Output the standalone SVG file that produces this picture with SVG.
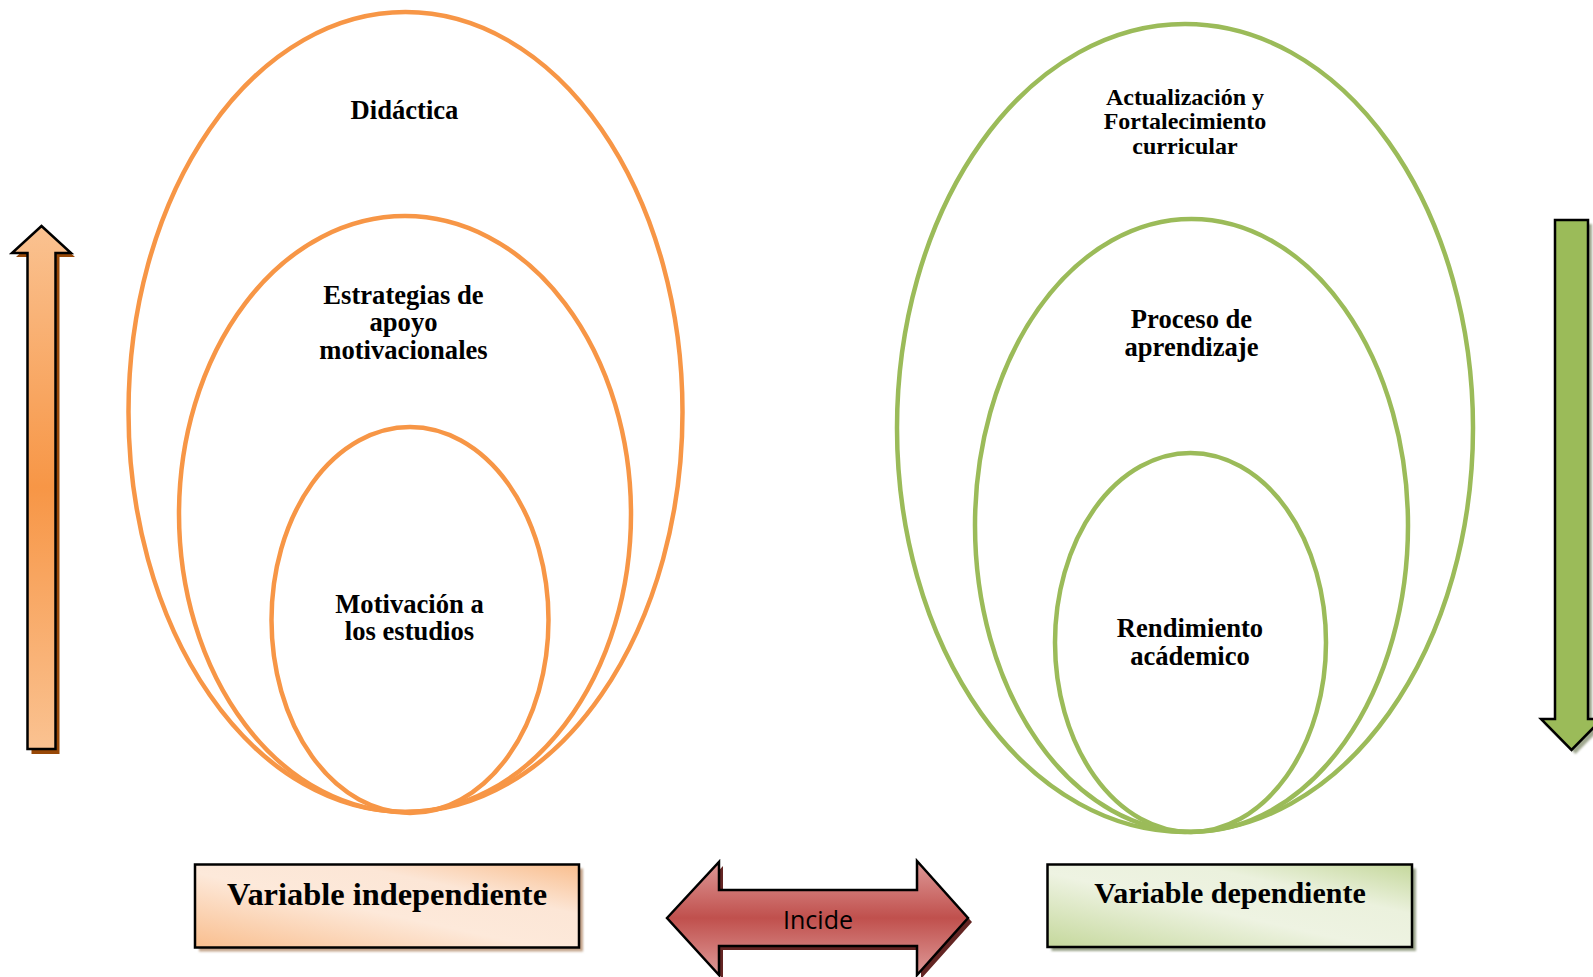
<svg xmlns="http://www.w3.org/2000/svg" width="1593" height="977" viewBox="0 0 1593 977">
  <defs>
    <linearGradient id="gUp" x1="0" y1="0" x2="0" y2="1">
      <stop offset="0" stop-color="#fac291"/>
      <stop offset="0.5" stop-color="#f79646"/>
      <stop offset="1" stop-color="#fac291"/>
    </linearGradient>
    <linearGradient id="gRed" x1="0" y1="0" x2="0" y2="1">
      <stop offset="0" stop-color="#de9a98"/>
      <stop offset="0.5" stop-color="#c0504d"/>
      <stop offset="1" stop-color="#de9a98"/>
    </linearGradient>
    <linearGradient id="gOrangeBox" x1="0" y1="1" x2="1" y2="0">
      <stop offset="0" stop-color="#f9be8e"/>
      <stop offset="0.45" stop-color="#fde9da"/>
      <stop offset="0.7" stop-color="#fce6d6"/>
      <stop offset="1" stop-color="#f9be8e"/>
    </linearGradient>
    <linearGradient id="gGreenBox" x1="0" y1="1" x2="1" y2="0">
      <stop offset="0" stop-color="#c5d89c"/>
      <stop offset="0.45" stop-color="#eef3e2"/>
      <stop offset="0.7" stop-color="#ebf1dd"/>
      <stop offset="1" stop-color="#c5d89c"/>
    </linearGradient>
    <filter id="soft" x="-10%" y="-10%" width="120%" height="120%">
      <feGaussianBlur stdDeviation="1"/>
    </filter>
  </defs>
  <style>
    .eo { fill: none; stroke: #f79646; stroke-width: 4.5; }
    .eg { fill: none; stroke: #9bbb59; stroke-width: 4.5; }
    .lbl { font-family: "Liberation Serif", "Times New Roman", serif; font-weight: bold; font-size: 26.6px; fill: #000; text-anchor: middle; }
    .lbl24 { font-family: "Liberation Serif", "Times New Roman", serif; font-weight: bold; font-size: 24px; fill: #000; text-anchor: middle; }
    .big { font-family: "Liberation Serif", "Times New Roman", serif; font-weight: bold; font-size: 30px; fill: #000; text-anchor: middle; }
    .outline { stroke: #000; stroke-width: 2.5; stroke-linejoin: miter; }
  </style>

  <g id="left-ellipses">
    <g id="didactica">
      <ellipse class="eo" cx="405.5" cy="412" rx="277" ry="400"/>
      <text class="lbl" x="404.5" y="119">Didáctica</text>
    </g>
    <g id="estrategias">
      <ellipse class="eo" cx="405" cy="514" rx="226" ry="298"/>
      <text class="lbl" x="403.5" y="304">Estrategias de</text>
      <text class="lbl" x="403.5" y="331">apoyo</text>
      <text class="lbl" x="403.5" y="358.5">motivacionales</text>
    </g>
    <g id="motivacion">
      <ellipse class="eo" cx="410" cy="620" rx="138.5" ry="193"/>
      <text class="lbl" x="409.5" y="612.5">Motivación a</text>
      <text class="lbl" x="409.5" y="640">los estudios</text>
    </g>
  </g>

  <g id="right-ellipses">
    <g id="actualizacion">
      <ellipse class="eg" cx="1185" cy="428" rx="288" ry="404"/>
      <text class="lbl24" x="1185" y="104.5">Actualización y</text>
      <text class="lbl24" x="1185" y="129">Fortalecimiento</text>
      <text class="lbl24" x="1185" y="154">curricular</text>
    </g>
    <g id="proceso">
      <ellipse class="eg" cx="1191.5" cy="525.5" rx="216.5" ry="306.5"/>
      <text class="lbl" x="1191.5" y="328">Proceso de</text>
      <text class="lbl" x="1191.5" y="355.5">aprendizaje</text>
    </g>
    <g id="rendimiento">
      <ellipse class="eg" cx="1190.5" cy="642.5" rx="135.5" ry="189.5"/>
      <text class="lbl" x="1190" y="636.5">Rendimiento</text>
      <text class="lbl" x="1190" y="664.5">acádemico</text>
    </g>
  </g>

  <g id="connectors">
    <g id="arrow-up">
      <polygon points="45.5,230 75,257 59.5,257 59.5,754 31.5,754 31.5,257 16,257" fill="#984807"/>
      <polygon class="outline" points="41.5,226 71,253 55.5,253 55.5,749 27.5,749 27.5,253 12,253" fill="url(#gUp)"/>
    </g>
    <g id="arrow-down">
      <polygon points="1559,224 1592,224 1592,723 1606,723 1575.5,754 1544,723 1559,723" fill="#a0a890" filter="url(#soft)"/>
      <polygon class="outline" points="1555,220 1588,220 1588,719 1602,719 1571.5,750 1541,719 1555,719" fill="#9bbb59"/>
    </g>
    <g id="incide">
      <polygon points="671,922 723,866 723,894 921,894 921,865 972,922 921,979 921,950 723,950 723,979" fill="#632523"/>
      <polygon class="outline" points="667,918 719,862 719,890 917,890 917,861 968,918 917,975 917,946 719,946 719,975" fill="url(#gRed)"/>
      <text x="818" y="928.5" font-family="Open Sans, Liberation Sans, sans-serif" font-size="25" fill="#000" text-anchor="middle">Incide</text>
    </g>
  </g>

  <g id="variable-independiente">
    <rect x="199" y="868.5" width="384" height="83" fill="#c4a58c" filter="url(#soft)"/>
    <rect x="195" y="864.5" width="384" height="83" fill="url(#gOrangeBox)" stroke="#000" stroke-width="2.5"/>
    <text class="big" x="387" y="904.5" style="font-size:32.4px">Variable independiente</text>
  </g>

  <g id="variable-dependiente">
    <rect x="1051.5" y="868.5" width="364.5" height="82.5" fill="#9ba58c" filter="url(#soft)"/>
    <rect x="1047.5" y="864.5" width="364.5" height="82.5" fill="url(#gGreenBox)" stroke="#000" stroke-width="2.5"/>
    <text class="big" x="1230" y="903">Variable dependiente</text>
  </g>
</svg>
